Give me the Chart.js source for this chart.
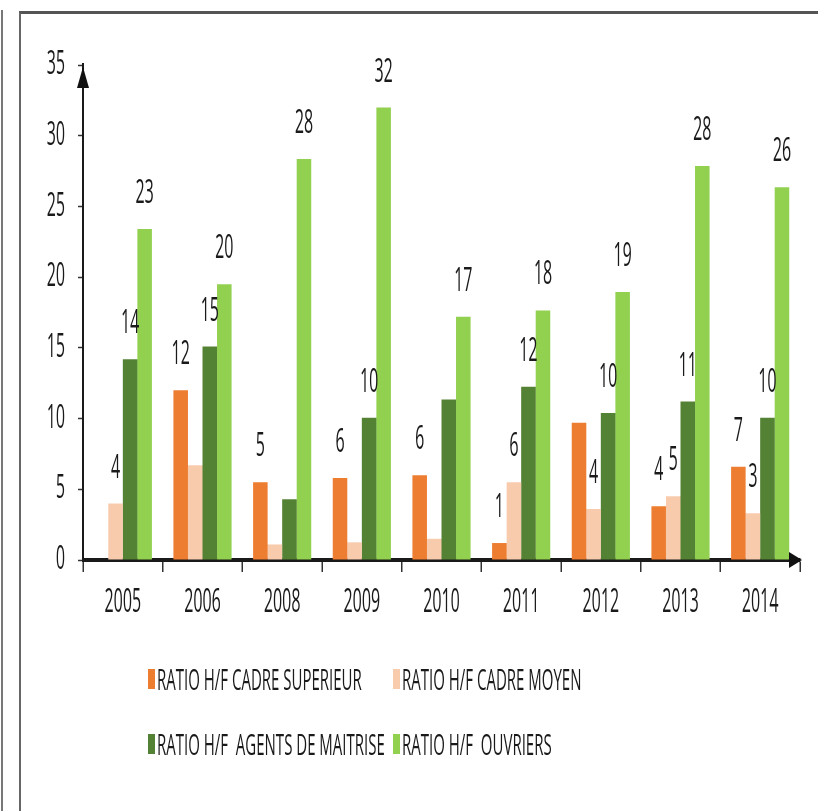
<!DOCTYPE html>
<html>
<head>
<meta charset="utf-8">
<script src="https://cdn.jsdelivr.net/npm/chart.js@4.4.1/dist/chart.umd.min.js"></script>
<style>
  html, body { margin: 0; padding: 0; background: #fff; }
  body { width: 818px; height: 811px; position: relative; overflow: hidden; }
  #outerLine { position: absolute; left: 1px; top: 10px; width: 2px; bottom: 0; background: #777; }
  #frame { position: absolute; left: 19px; top: 11px; right: -10px; bottom: -10px;
           border-top: 3px solid #555; border-left: 2px solid #666; }
  /* the reference is squeezed horizontally, so draw at double width and squash */
  #stage { position: absolute; left: 0; top: 0; width: 1636px; height: 811px;
           transform: scaleX(0.5); transform-origin: 0 0; }
  #chartBox { position: absolute; left: 0; top: 0; width: 1636px; height: 640px; }
  #legend { position: absolute; left: 296px; top: 664px; display: grid;
            grid-template-columns: 490px auto; row-gap: 35px;
            font-family: 'Open Sans', sans-serif; font-size: 30px; color: #1a1a1a; }
  .item { display: flex; align-items: center; white-space: pre; line-height: 30px; }
  .swatch { width: 14px; height: 20px; margin-right: 4px; }
</style>
</head>
<body>
<div id="outerLine"></div>
<div id="frame"></div>
<div id="stage">
  <div id="chartBox"><canvas id="ratioChart"></canvas></div>
  <div id="legend"></div>
</div>
<script>
const years = ['2005', '2006', '2008', '2009', '2010', '2011', '2012', '2013', '2014'];

const cadreSuperieur = [0, 12.0, 5.5, 5.8, 6.0, 1.2, 9.7, 3.8, 6.6];
const cadreMoyen = [4.0, 6.7, 1.1, 1.25, 1.5, 5.5, 3.6, 4.5, 3.3];
const agentsMaitrise = [14.2, 15.1, 4.3, 10.05, 11.35, 12.25, 10.4, 11.2, 10.05];
const ouvriers = [23.4, 19.5, 28.35, 32.0, 17.2, 17.65, 18.95, 27.85, 26.35];

// value labels shown in the picture (null = no label on that bar)
const cadreSuperieurLabels = [null, '12', '5', '6', '6', '1', null, '4', '7'];
const cadreMoyenLabels = ['4', null, null, null, null, '6', '4', '5', '3'];
const agentsMaitriseLabels = ['14', '15', null, '10', null, '12', '10', '11', '10'];
const ouvriersLabels = ['23', '20', '28', '32', '17', '18', '19', '28', '26'];

const seriesNames = [
  'RATIO H/F CADRE SUPERIEUR',
  'RATIO H/F CADRE MOYEN',
  'RATIO H/F  AGENTS DE MAITRISE',
  'RATIO H/F  OUVRIERS'
];
const seriesColors = ['#ED7D31', '#F8CBAD', '#548235', '#92D050'];

const yTicks = [0, 5, 10, 15, 20, 25, 30, 35];

const FONT = "'Open Sans', sans-serif";
const TEXT = '#1a1a1a';

const valueLabels = [cadreSuperieurLabels, cadreMoyenLabels, agentsMaitriseLabels, ouvriersLabels];

// draws the numbers above the bars
const barLabels = {
  id: 'barLabels',
  afterDatasetsDraw(chart) {
    const ctx = chart.ctx;
    ctx.save();
    ctx.font = '32px ' + FONT;
    ctx.fillStyle = TEXT;
    ctx.textAlign = 'center';
    ctx.textBaseline = 'middle';
    chart.data.datasets.forEach((ds, i) => {
      const meta = chart.getDatasetMeta(i);
      meta.data.forEach((bar, j) => {
        const txt = valueLabels[i][j];
        if (txt) ctx.fillText(txt, bar.x, bar.y - 35);
      });
    });
    ctx.restore();
  }
};

// arrow heads at the end of both axes
const axisArrows = {
  id: 'axisArrows',
  afterDraw(chart) {
    const { ctx, chartArea } = chart;
    ctx.save();
    ctx.fillStyle = '#111';
    ctx.beginPath();
    ctx.moveTo(chartArea.left, chartArea.top + 2);
    ctx.lineTo(chartArea.left - 12, chartArea.top + 23);
    ctx.lineTo(chartArea.left + 12, chartArea.top + 23);
    ctx.closePath();
    ctx.fill();
    ctx.beginPath();
    ctx.moveTo(chartArea.right + 4, chartArea.bottom);
    ctx.lineTo(chartArea.right - 22, chartArea.bottom - 8);
    ctx.lineTo(chartArea.right - 22, chartArea.bottom + 8);
    ctx.closePath();
    ctx.fill();
    ctx.restore();
  }
};

new Chart(
  document.getElementById('ratioChart'),
  {
    type: 'bar',
    data: {
      labels: years,
      datasets: [cadreSuperieur, cadreMoyen, agentsMaitrise, ouvriers].map((values, i) => ({
        label: seriesNames[i],
        data: values,
        backgroundColor: seriesColors[i],
        borderWidth: 0,
        barPercentage: 1,
        categoryPercentage: 0.73
      }))
    },
    options: {
      responsive: true,
      maintainAspectRatio: false,
      animation: false,
      layout: { padding: { top: 65, left: 66, right: 36, bottom: 20 } },
      plugins: {
        legend: { display: false },
        tooltip: { enabled: false }
      },
      scales: {
        x: {
          ticks: { padding: 12, color: TEXT, font: { family: FONT, size: 32 } },
          grid: { drawOnChartArea: false, offset: true, tickLength: 12, tickWidth: 3, tickColor: '#333' },
          border: { color: '#1a1a1a', width: 4 },
          afterFit: s => { s.height = 60; }
        },
        y: {
          min: 0,
          max: 35,
          afterBuildTicks: s => { s.ticks = yTicks.map(v => ({ value: v })); },
          ticks: { padding: 26, color: TEXT, font: { family: FONT, size: 32 } },
          grid: { drawOnChartArea: false, tickLength: 10, tickWidth: 1.5, tickColor: '#333' },
          border: { color: '#1a1a1a', width: 4 },
          afterFit: s => { s.width = 100; }
        }
      }
    },
    plugins: [barLabels, axisArrows]
  }
);

// legend, two items per row like the original
const legend = document.getElementById('legend');
seriesNames.forEach((name, i) => {
  const item = document.createElement('div');
  item.className = 'item';
  const sw = document.createElement('span');
  sw.className = 'swatch';
  sw.style.background = seriesColors[i];
  item.appendChild(sw);
  item.appendChild(document.createTextNode(name));
  legend.appendChild(item);
});
</script>
</body>
</html>
